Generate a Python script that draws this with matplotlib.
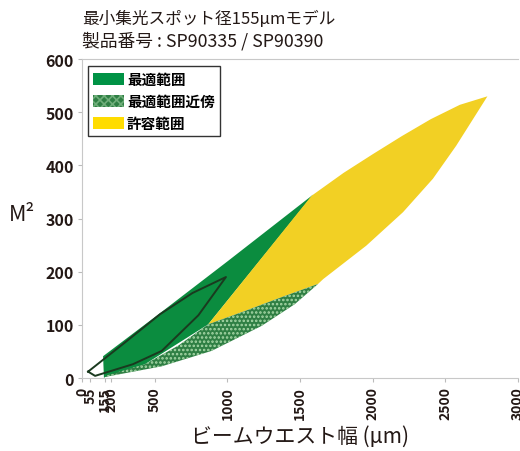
import matplotlib
matplotlib.use("Agg")
import matplotlib.pyplot as plt
from matplotlib.patches import Polygon, Patch
import numpy as np

plt.rcParams['font.family'] = ['Noto Sans CJK JP', 'DejaVu Sans']
plt.rcParams['hatch.linewidth'] = 1.2

# region outlines (beam waist um, M2)
best_x = [150, 144, 536, 1003, 1590, 868, 433, 158]
best_y = [0, 41, 122, 220, 345, 101, 26, 2]

allowed_x = [868, 1580, 1800, 2000, 2200, 2400, 2600, 2790,
             2575, 2415, 2209, 1956, 1659, 1624, 1372, 1120]
allowed_y = [101, 343, 386, 421, 455, 487, 514, 530,
             437, 375, 312, 249, 186, 177, 152, 126]

near_x = [158, 433, 662, 868, 1120, 1372, 1624, 1464, 1235, 891, 548, 158]
near_y = [4, 26, 61, 101, 126, 152, 177, 139, 98, 51, 22, 2]

outline_x = [41, 300, 536, 760, 990, 800, 548, 350, 89, 41]
outline_y = [12, 68, 120, 160, 190, 118, 51, 26, 4, 12]

xticks = [0, 55, 155, 200, 500, 1000, 1500, 2000, 2500, 3000]
yticks = [0, 100, 200, 300, 400, 500, 600]

green = "#0b8c3f"
yellow = "#f2d024"
near_face = "#2f7f44"

fig = plt.figure(figsize=(5.2, 4.52), dpi=100)
ax = fig.add_axes([0.158, 0.1615, 0.838, 0.7055])

ax.add_patch(Polygon(np.column_stack([best_x, best_y]), closed=True,
                     facecolor=green, edgecolor="none"))
ax.add_patch(Polygon(np.column_stack([allowed_x, allowed_y]), closed=True,
                     facecolor=yellow, edgecolor="none"))
ax.add_patch(Polygon(np.column_stack([near_x, near_y]), closed=True,
                     facecolor=near_face, edgecolor="#a8d8a8", hatch="....", lw=0))
ax.plot(outline_x, outline_y, color="#1a3a1f", lw=1.4)

ax.set_xlim(0, 3000)
ax.set_ylim(0, 600)
ax.set_xticks(xticks)
ax.set_xticklabels([str(t) for t in xticks], rotation=90, fontweight="bold",
                   fontsize=10, color="#231815")
ax.set_yticks(yticks)
ax.set_yticklabels([str(t) for t in yticks], fontweight="bold", fontsize=11.5,
                   color="#231815")
ax.tick_params(axis="both", length=3, color="#bbbbbb", pad=3)
for s in ["left", "bottom", "top"]:
    ax.spines[s].set_color("#c8c8c8")
ax.spines["right"].set_visible(False)

ax.set_xlabel("ビームウエスト幅 (μm)", fontsize=15, color="#231815", labelpad=4)
fig.text(0.018, 0.525, "M²", fontsize=15.5, color="#231815", va="center")

fig.text(0.158, 0.958, "最小集光スポット径155μmモデル", fontsize=12, color="#231815",
         va="center")
fig.text(0.158, 0.91, "製品番号 : SP90335 / SP90390", fontsize=12.8, color="#231815",
         va="center")

handles = [Patch(facecolor="#009245", edgecolor="none", label="最適範囲"),
           Patch(facecolor=near_face, edgecolor="#6fae7a", hatch="xxxx", lw=0,
                 label="最適範囲近傍"),
           Patch(facecolor="#ffdc00", edgecolor="none", label="許容範囲")]
leg = ax.legend(handles=handles, loc="upper left", bbox_to_anchor=(0.014, 0.978),
                fancybox=False, framealpha=1, edgecolor="#333333",
                prop={"weight": "bold", "size": 10.5}, handlelength=2.1,
                handleheight=0.85, handletextpad=0.2, labelspacing=0.4,
                borderpad=0.35, borderaxespad=0)
leg.get_frame().set_linewidth(1.0)

fig.savefig("out.png", dpi=100)
